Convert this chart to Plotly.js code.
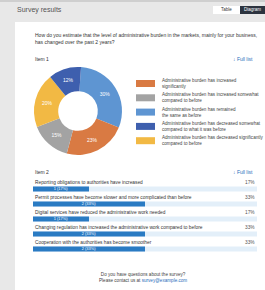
<!DOCTYPE html>
<html><head><meta charset="utf-8">
<script src="https://cdn.plot.ly/plotly-3.0.1.min.js"></script>
<style>html,body{margin:0;padding:0;background:#e8e8e8;overflow:hidden}#chart{width:265px;height:290px}</style>
</head><body><div id="chart"></div>
<script>
// ---- data ----
const pageTitle = "Survey results";
const buttons = ["Table", "Diagram"];
const question = "How do you estimate that the level of administrative burden in the markets, mainly for your business,<br>has changed over the past 2 years?";
const item1Label = "Item 1";
const item2Label = "Item 2";
const fullList = "↓ Full list";

const pieCategories = [
  "Administrative burden has increased<br>significantly",
  "Administrative burden has increased somewhat<br>compared to before",
  "Administrative burden has remained<br>the same as before",
  "Administrative burden has decreased somewhat<br>compared to what it was before",
  "Administrative burden has decreased significantly<br>compared to before"
];
const pieValues = [23, 15, 30, 12, 20];
const pieColors = ["#d97a43", "#a3a3a3", "#5e95d2", "#3e5fae", "#f2b944"];
const pieDrawOrder = [2, 0, 1, 4, 3];

const barCategories = [
  "Reporting obligations to authorities have increased",
  "Permit processes have become slower and more complicated than before",
  "Digital services have reduced the administrative work needed",
  "Changing regulation has increased the administrative work compared to before",
  "Cooperation with the authorities has become smoother"
];
const barCounts = [1, 2, 1, 2, 2];
const barPercents = [17, 33, 17, 33, 33];
const barMax = 4;

const footerLines = ["Do you have questions about the survey?", "Please contact us at <span style='color:#2a6ebb'>survey@example.com</span>"];

// ---- helpers (pixel -> paper) ----
const W = 265, H = 290;
const X = p => p / W;
const Y = p => 1 - p / H;

const shapes = [
  {type:"rect", xref:"paper", yref:"paper", x0:X(0), x1:X(265), y0:Y(0), y1:Y(2), fillcolor:"#cfcfcf", line:{width:0}, layer:"below"},
  {type:"rect", xref:"paper", yref:"paper", x0:X(15), x1:X(265), y0:Y(22), y1:Y(290), fillcolor:"#ffffff", line:{width:0}, layer:"below"},
  {type:"rect", xref:"paper", yref:"paper", x0:X(213), x1:X(240), y0:Y(6), y1:Y(14), fillcolor:"#ffffff", line:{width:0}, layer:"below"},
  {type:"rect", xref:"paper", yref:"paper", x0:X(240), x1:X(265), y0:Y(6), y1:Y(14), fillcolor:"#2c333f", line:{width:0}, layer:"below"}
];

const font = "Liberation Sans, Arial, sans-serif";
const ann = [];
function txt(x, y, t, size, color, anchor, extra) {
  ann.push(Object.assign({xref:"paper", yref:"paper", x:X(x), y:Y(y), text:t, showarrow:false,
    xanchor:anchor || "left", yanchor:"middle", align:"left",
    font:{family:font, size:size, color:color}}, extra || {}));
}
txt(15, 10, pageTitle, 7, "#555555");
txt(226.5, 10, buttons[0], 4.5, "#333333", "center");
txt(252.5, 10, buttons[1], 4.5, "#ffffff", "center");
txt(33, 38.5, question, 5, "#333333", "left", {yanchor:"middle"});
txt(33, 59, item1Label, 5, "#333333");
txt(255, 59, fullList, 5, "#2a6ebb", "right");
txt(33, 172, item2Label, 5, "#333333");
txt(255, 172, fullList, 5, "#2a6ebb", "right");
ann.push({xref:"paper", yref:"paper", x:X(143), y:Y(277.5), text:footerLines.join("<br>"), showarrow:false,
  xanchor:"center", yanchor:"middle", align:"center", font:{family:font, size:4.6, color:"#444444"}});

// legend built from the pie arrays
pieCategories.forEach((c, i) => {
  const cy = 83.5 + i * 14.3;
  shapes.push({type:"rect", xref:"paper", yref:"paper", x0:X(136), x1:X(155), y0:Y(cy - 3.5), y1:Y(cy + 3.5),
    fillcolor:pieColors[i], line:{width:0}});
  txt(160, cy, c, 4.6, "#444444");
});

// bar row texts
barCategories.forEach((c, i) => {
  ann.push({xref:"paper", yref:"y", x:X(33), y:i, yshift:7, text:c, showarrow:false, xanchor:"left", yanchor:"middle",
    font:{family:font, size:4.8, color:"#333333"}});
  ann.push({xref:"paper", yref:"y", x:X(257), y:i, yshift:7, text:barPercents[i] + "%", showarrow:false, xanchor:"right", yanchor:"middle",
    font:{family:font, size:4.8, color:"#555555"}});
});

const yIdx = barCategories.map((_, i) => i);

const traces = [
  {type:"pie", labels:pieDrawOrder.map(i => pieCategories[i]), values:pieDrawOrder.map(i => pieValues[i]),
   marker:{colors:pieDrawOrder.map(i => pieColors[i]), line:{width:0}},
   sort:false, direction:"clockwise", rotation:4, hole:0.45,
   domain:{x:[X(34), X(122)], y:[Y(155), Y(67)]},
   textinfo:"percent", texttemplate:"%{percent:.0%}", textposition:"inside", insidetextorientation:"horizontal",
   textfont:{family:font, size:5, color:"#ffffff"}, showlegend:false, hoverinfo:"none"},
  {type:"bar", orientation:"h", y:yIdx, x:barCounts.map(() => barMax), marker:{color:"#e3eff9"},
   width:0.33, hoverinfo:"none", showlegend:false, xaxis:"x", yaxis:"y"},
  {type:"bar", orientation:"h", y:yIdx, x:barCounts, marker:{color:"#2a7bc3"},
   width:0.33, text:barCounts.map((c, i) => c + " (" + barPercents[i] + "%)"), textposition:"inside",
   insidetextanchor:"middle", textfont:{family:font, size:4, color:"#ffffff"}, hoverinfo:"none", showlegend:false,
   xaxis:"x", yaxis:"y"}
];

const layout = {
  width:W, height:H, margin:{l:0, r:0, t:0, b:0},
  paper_bgcolor:"#e8e8e8", plot_bgcolor:"rgba(0,0,0,0)",
  barmode:"overlay",
  xaxis:{domain:[X(33), X(257)], range:[0, barMax], visible:false, fixedrange:true},
  yaxis:{domain:[Y(256.5), Y(181.5)], range:[4.5, -0.5], visible:false, fixedrange:true},
  shapes:shapes, annotations:ann, font:{family:font}
};

Plotly.newPlot("chart", traces, layout, {staticPlot:true, displayModeBar:false});
</script></body></html>
